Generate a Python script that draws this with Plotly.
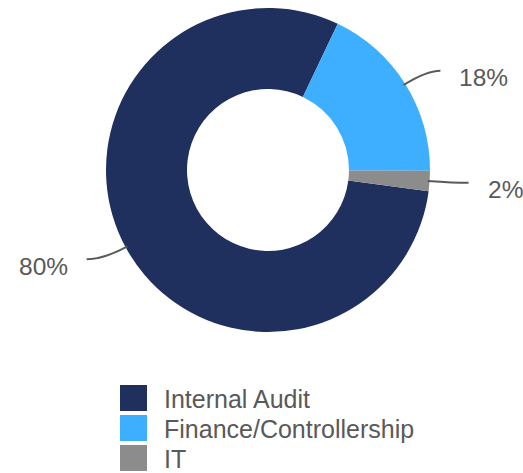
import math
import plotly.graph_objects as go

# -----------------------------
# Data
# -----------------------------
labels = ["Internal Audit", "Finance/Controllership", "IT"]
values = [80, 18, 2]
colors = ["#1f305e", "#3eaefe", "#8c8c8c"]

W, H = 523, 473
FONT = "Liberation Sans, Arial, sans-serif"
TEXT_COLOR = "#595959"

# pie geometry in screen pixels
cx, cy, R = 268, 170, 162
rotation = 97.5


def px(x, y):
    # screen pixel -> paper coords
    return x / W, 1 - y / H


fig = go.Figure()

x0, y0 = px(cx - R, cy + R)
x1, y1 = px(cx + R, cy - R)

fig.add_trace(go.Pie(
    labels=labels,
    values=values,
    hole=0.5,
    sort=False,
    direction="clockwise",
    rotation=rotation,
    marker=dict(colors=colors, line=dict(width=0)),
    textinfo="none",
    hoverinfo="label+percent",
    showlegend=False,
    domain=dict(x=[x0, x1], y=[y0, y1]),
))

# -----------------------------
# Leader lines + percent labels
# -----------------------------
shapes = []
annotations = []
total = sum(values)
start = rotation
for v in values:
    span = 360 * v / total
    mid = math.radians(start + span / 2)
    start += span
    s, c = math.sin(mid), math.cos(mid)
    side = 1 if s >= 0 else -1
    p0 = (cx + (R - 2) * s, cy - (R - 2) * c)
    p1 = (cx + (R + 25) * s, cy - (R + 25) * c)
    p2 = (p1[0] + side * (14 if side > 0 else 17), p1[1])
    a, b, d = px(*p0), px(*p1), px(*p2)
    shapes.append(dict(
        type="path", xref="paper", yref="paper",
        path=f"M {a[0]},{a[1]} Q {b[0]},{b[1]} {d[0]},{d[1]}",
        line=dict(color="#595959", width=2),
    ))
    tx, ty = px(p2[0] + side * 17, p2[1] + 7)
    annotations.append(dict(
        x=tx, y=ty, xref="paper", yref="paper",
        text=f"{round(100 * v / total)}%",
        showarrow=False,
        xanchor="left" if side > 0 else "right",
        yanchor="middle",
        font=dict(size=24.5, color=TEXT_COLOR, family=FONT),
    ))

# -----------------------------
# Legend (drawn by hand for large swatches)
# -----------------------------
for i, (lab, col) in enumerate(zip(labels, colors)):
    top = 385 + 30 * i
    a = px(120, top)
    b = px(147, top + 26)
    shapes.append(dict(
        type="rect", xref="paper", yref="paper",
        x0=a[0], y0=b[1], x1=b[0], y1=a[1],
        fillcolor=col, line=dict(width=0),
    ))
    t = px(162, top + 14)
    annotations.append(dict(
        x=t[0], y=t[1], xref="paper", yref="paper",
        text=lab, showarrow=False,
        xanchor="left", yanchor="middle",
        font=dict(size=25, color=TEXT_COLOR, family=FONT),
    ))

fig.update_layout(
    width=W,
    height=H,
    margin=dict(l=0, r=0, t=0, b=0),
    paper_bgcolor="white",
    plot_bgcolor="white",
    shapes=shapes,
    annotations=annotations,
)

# drop the default body margin so the figure fills the window exactly
fig.write_html(
    "out.html",
    config={"displayModeBar": False},
    post_script="document.body.style.margin='0px';",
)
